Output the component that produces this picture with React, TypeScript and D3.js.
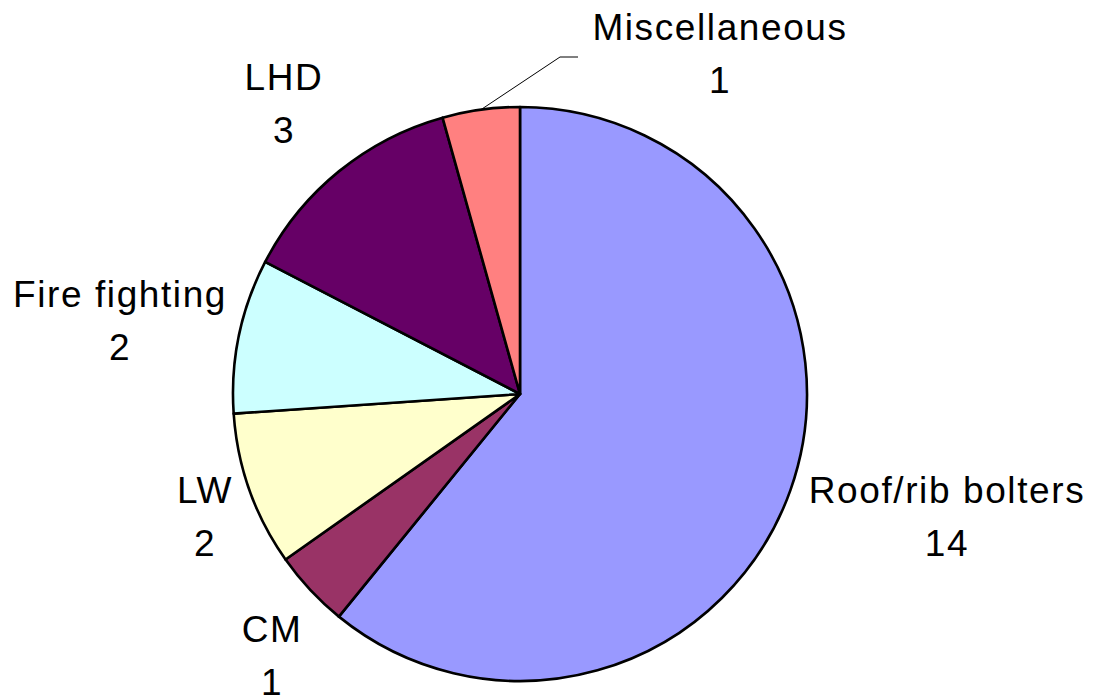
import React from "react";
import * as d3 from "d3";

const categories = ["Roof/rib bolters", "CM", "LW", "Fire fighting", "LHD", "Miscellaneous"];
const values = [14, 1, 2, 2, 3, 1];
const colors = ["#9999FF", "#993366", "#FFFFCC", "#CCFFFF", "#660066", "#FF8080"];

// label layout (manually placed labels, offsets relative to pie centre)
const labelOffsets: [number, number][] = [
  [427, 109],
  [-248, 248],
  [-315, 109],
  [-400, -87],
  [-236, -304],
  [200, -354],
];

const W = 1094;
const H = 696;
const cx = 520;
const cy = 394;
const R = 287;
const fontSize = 37;
const lineGap = 53;

export default function App() {
  const data = categories.map((c, i) => ({ name: c, value: values[i], color: colors[i] }));
  const pie = d3.pie<any>().sort(null).value((d: any) => d.value).startAngle(0).endAngle(2 * Math.PI);
  const arcs = pie(data);
  const arc = d3.arc<any>().innerRadius(0).outerRadius(R);

  const misc = arcs[5];
  const mid = (misc.startAngle + misc.endAngle) / 2;
  const p0: [number, number] = [cx + R * Math.sin(mid), cy - R * Math.cos(mid)];
  const miscLabel = labelOffsets[5];
  const p2: [number, number] = [cx + miscLabel[0] - 142, cy + miscLabel[1] + 17];
  const p1: [number, number] = [p2[0] - 18, p2[1]];
  const leader = d3.line()([p0, p1, p2]);

  return (
    <svg width={W} height={H} style={{ position: "fixed", left: 0, top: 0, background: "#fff" }}>
      <rect x={0} y={0} width={W} height={H} fill="#fff" />
      <g transform={`translate(${cx},${cy})`}>
        {arcs.map((a, i) => (
          <path key={i} d={arc(a) as string} fill={a.data.color} stroke="#000" strokeWidth={2.6} strokeLinejoin="round" />
        ))}
      </g>
      <path d={leader as string} fill="none" stroke="#000" strokeWidth={1} />
      {arcs.map((a, i) => (
        <text
          key={i}
          x={cx + labelOffsets[i][0]}
          y={cy + labelOffsets[i][1]}
          textAnchor="middle"
          fontFamily="'Liberation Sans', Arial, sans-serif"
          fontSize={fontSize}
          letterSpacing={1.6}
          fill="#000"
        >
          <tspan x={cx + labelOffsets[i][0]} dy={0}>{a.data.name}</tspan>
          <tspan x={cx + labelOffsets[i][0]} dy={lineGap}>{a.data.value}</tspan>
        </text>
      ))}
    </svg>
  );
}
